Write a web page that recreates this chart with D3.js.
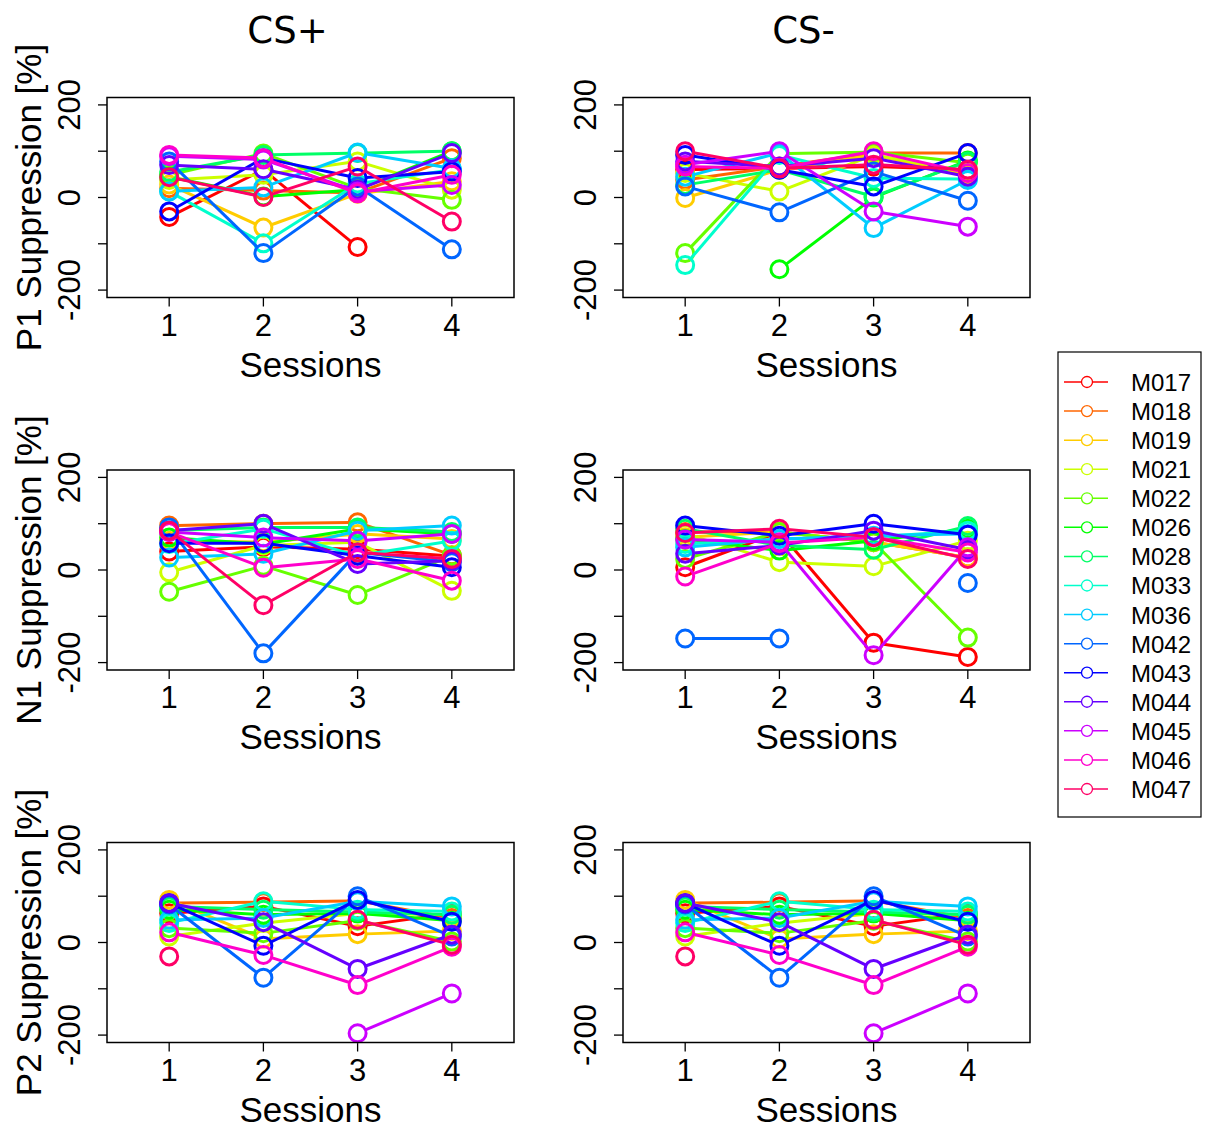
<!DOCTYPE html>
<html>
<head>
<meta charset="utf-8">
<script src="https://cdn.jsdelivr.net/npm/d3@7/dist/d3.min.js"></script>
<style>
  body { margin: 0; background: #fff; }
  text { font-family: "Liberation Sans", Arial, sans-serif; }
</style>
</head>
<body>
<svg id="chart" width="1206" height="1130"></svg>
<script>
// animals and their colours (R rainbow(15))
const animals = ['M017', 'M018', 'M019', 'M021', 'M022', 'M026', 'M028', 'M033', 'M036', 'M042', 'M043', 'M044', 'M045', 'M046', 'M047']
const colors = ['#FF0000', '#FF6600', '#FFCC00', '#CCFF00', '#66FF00', '#00FF00', '#00FF66', '#00FFCC',
                '#00CCFF', '#0066FF', '#0000FF', '#6600FF', '#CC00FF', '#FF00CC', '#FF0066']
const sessions = [1, 2, 3, 4]
const yTicks = [-200, -100, 0, 100, 200]
const yTickLabels = [-200, 0, 200]
const columnTitles = ['CS+', 'CS-']
const rowLabels = ['P1 Suppression [%]', 'N1 Suppression [%]', 'P2 Suppression [%]']

// suppression values per animal, sessions 1..4 (null = missing)
const p1CsPlus = [
    [-42, 60, -107, null],
    [20, 15, 10, 85],
    [28, -65, 8, 35],
    [38, 49, 78, 17],
    [49, 95, 20, -5],
    [45, 2, 17, 100],
    [55, 92, 96, 100],
    [13, -99, 30, 60],
    [13, 22, 97, 63],
    [78, -120, 24, -112],
    [-30, 85, 42, 56],
    [70, 61, 17, 96],
    [89, 82, 13, 27],
    [92, 85, 9, 49],
    [44, 1, 67, -52]
]
const p1CsMinus = [
    [60, 63, 67, 60],
    [38, 67, 96, 96],
    [-1, 60, 92, 49],
    [53, 13, 92, 56],
    [-120, 95, 98, 75],
    [null, -155, 0, 80],
    [27, 60, 2, 78],
    [-146, 92, 42, 40],
    [45, 96, -66, 38],
    [24, -32, 56, -7],
    [92, 60, 24, 96],
    [78, 67, 85, 45],
    [71, 100, -30, -63],
    [67, 63, 100, 53],
    [100, 63, 71, 60]
]
const n1CsPlus = [
    [40, 50, 45, 30],
    [96, 100, 103, 32],
    [63, 60, 78, 67],
    [-5, 53, 60, -45],
    [-47, 9, -54, 31],
    [70, 56, 89, 78],
    [85, 92, 92, 82],
    [56, 89, 31, 63],
    [27, 35, 85, 96],
    [92, -180, 38, 17],
    [58, 58, 31, 6],
    [85, 100, 13, 20],
    [82, 70, 63, 78],
    [82, 5, 24, -23],
    [85, -76, 38, 24]
]
const n1CsMinus = [
    [6, 82, -157, -188],
    [82, 82, 60, 27],
    [71, 82, 60, 27],
    [78, 17, 8, 63],
    [24, 82, 60, -146],
    [67, 42, 63, 89],
    [89, 53, 44, 95],
    [56, 67, 71, 85],
    [49, 67, 74, 78],
    [-148, -148, null, -28],
    [96, 74, 100, 76],
    [35, 53, 85, 44],
    [66, 60, -184, 49],
    [-14, 58, 71, 38],
    [80, 89, 71, 24]
]
const p2CsPlus = [
    [63, 78, 35, 63],
    [85, 87, 90, 53],
    [92, 8, 18, 25],
    [13, 42, 63, 60],
    [31, 20, 47, 2],
    [71, 60, 63, 47],
    [78, 71, 66, 60],
    [42, 89, 71, 67],
    [49, 53, 89, 78],
    [82, -76, 100, 13],
    [85, -7, 92, 45],
    [85, 44, -57, 17],
    [null, null, -196, -110],
    [22, -27, -92, -9],
    [-30, null, 49, -5]
]
const p2CsMinus = [
    [63, 78, 35, 63],
    [85, 87, 90, 53],
    [92, 8, 18, 25],
    [13, 42, 63, 60],
    [31, 20, 47, 2],
    [71, 60, 63, 47],
    [78, 71, 66, 60],
    [42, 89, 71, 67],
    [49, 53, 89, 78],
    [82, -76, 100, 13],
    [85, -7, 92, 45],
    [85, 44, -57, 17],
    [null, null, -196, -110],
    [22, -27, -92, -9],
    [-30, null, 49, -5]
]

const panels = [
    { row: 0, col: 0, values: p1CsPlus },
    { row: 0, col: 1, values: p1CsMinus },
    { row: 1, col: 0, values: n1CsPlus },
    { row: 1, col: 1, values: n1CsMinus },
    { row: 2, col: 0, values: p2CsPlus },
    { row: 2, col: 1, values: p2CsMinus }
]

let svg = d3.select('#chart')

let boxLeft = [107, 623]
let boxTop = [97.5, 470, 842.5]
let boxWidth = 407
let boxHeight = 200
let radius = 8.5

// R style 4% padding: xlim 0.5..4.5, ylim -200..200
let x = d3.scaleLinear().domain([0.34, 4.66]).range([0, boxWidth])
let y = d3.scaleLinear().domain([-216, 216]).range([boxHeight, 0])

// column titles
columnTitles.forEach((title, c) => {
    svg.append('text')
        .attr('x', boxLeft[c] + boxWidth / 2 - 23)
        .attr('y', 43)
        .attr('text-anchor', 'middle')
        .style('font-family', '"DejaVu Sans", sans-serif')
        .style('font-size', '37px')
        .text(title)
})

panels.forEach((panel) => {
    let g = svg.append('g')
        .attr('transform', `translate(${boxLeft[panel.col]},${boxTop[panel.row]})`)

    // y axis (ticks out from the box)
    g.selectAll('.ytick')
        .data(yTicks)
        .enter()
        .append('line')
        .attr('x1', -9)
        .attr('x2', 0)
        .attr('y1', (d) => y(d))
        .attr('y2', (d) => y(d))
        .attr('stroke', 'black')
        .attr('stroke-width', 1.3)
    g.selectAll('.ylab')
        .data(yTickLabels)
        .enter()
        .append('text')
        .attr('transform', (d) => `translate(-27,${y(d)}) rotate(-90)`)
        .attr('text-anchor', 'middle')
        .style('font-size', '31px')
        .text((d) => d)

    // x axis
    g.selectAll('.xtick')
        .data(sessions)
        .enter()
        .append('line')
        .attr('x1', (d) => x(d))
        .attr('x2', (d) => x(d))
        .attr('y1', boxHeight)
        .attr('y2', boxHeight + 9)
        .attr('stroke', 'black')
        .attr('stroke-width', 1.3)
    g.selectAll('.xlab')
        .data(sessions)
        .enter()
        .append('text')
        .attr('x', (d) => x(d))
        .attr('y', boxHeight + 38)
        .attr('text-anchor', 'middle')
        .style('font-size', '31px')
        .text((d) => d)

    g.append('text')
        .attr('x', boxWidth / 2)
        .attr('y', boxHeight + 79)
        .attr('text-anchor', 'middle')
        .style('font-size', '35px')
        .text('Sessions')

    if (panel.col == 0) {
        g.append('text')
            .attr('transform', `translate(${41 - boxLeft[0]},${boxHeight / 2}) rotate(-90)`)
            .attr('text-anchor', 'middle')
            .style('font-size', '35px')
            .text(rowLabels[panel.row])
    }

    // series: lines with gaps round the points (type = "b")
    panel.values.forEach((series, i) => {
        let sg = g.append('g').attr('class', 'series')
        let pts = sessions.map((s, j) => ({ s: s, v: series[j] }))
        for (let j = 0; j < pts.length - 1; j++) {
            let a = pts[j]
            let b = pts[j + 1]
            if (a.v == null || b.v == null) continue
            let x1 = x(a.s), y1 = y(a.v), x2 = x(b.s), y2 = y(b.v)
            let len = Math.hypot(x2 - x1, y2 - y1)
            if (len <= 2 * radius) continue
            let ux = (x2 - x1) / len, uy = (y2 - y1) / len
            sg.append('line')
                .attr('x1', x1 + ux * radius)
                .attr('y1', y1 + uy * radius)
                .attr('x2', x2 - ux * radius)
                .attr('y2', y2 - uy * radius)
                .attr('stroke', colors[i])
                .attr('stroke-width', 3)
        }
        sg.selectAll('circle')
            .data(pts.filter((p) => p.v != null))
            .enter()
            .append('circle')
            .attr('cx', (p) => x(p.s))
            .attr('cy', (p) => y(p.v))
            .attr('r', radius)
            .attr('fill', 'none')
            .attr('stroke', colors[i])
            .attr('stroke-width', 3)
    })

    // box
    g.append('rect')
        .attr('width', boxWidth)
        .attr('height', boxHeight)
        .attr('fill', 'none')
        .attr('stroke', 'black')
        .attr('stroke-width', 1.5)
})

// legend
let legend = svg.append('g').attr('transform', 'translate(1058,352)')
legend.append('rect')
    .attr('width', 143)
    .attr('height', 465)
    .attr('fill', 'white')
    .attr('stroke', 'black')
    .attr('stroke-width', 1.2)

let entry = legend.selectAll('.entry')
    .data(animals)
    .enter()
    .append('g')
    .attr('transform', (d, i) => `translate(0,${30 + i * 29.07})`)

entry.append('line')
    .attr('x1', 6).attr('x2', 50)
    .attr('stroke', (d, i) => colors[i])
    .attr('stroke-width', 1.5)
entry.append('circle')
    .attr('cx', 29)
    .attr('r', 5.5)
    .attr('fill', 'white')
    .attr('stroke', (d, i) => colors[i])
    .attr('stroke-width', 1.3)
entry.append('text')
    .attr('x', 73)
    .attr('y', 9)
    .style('font-size', '24px')
    .text((d) => d)
</script>
</body>
</html>
